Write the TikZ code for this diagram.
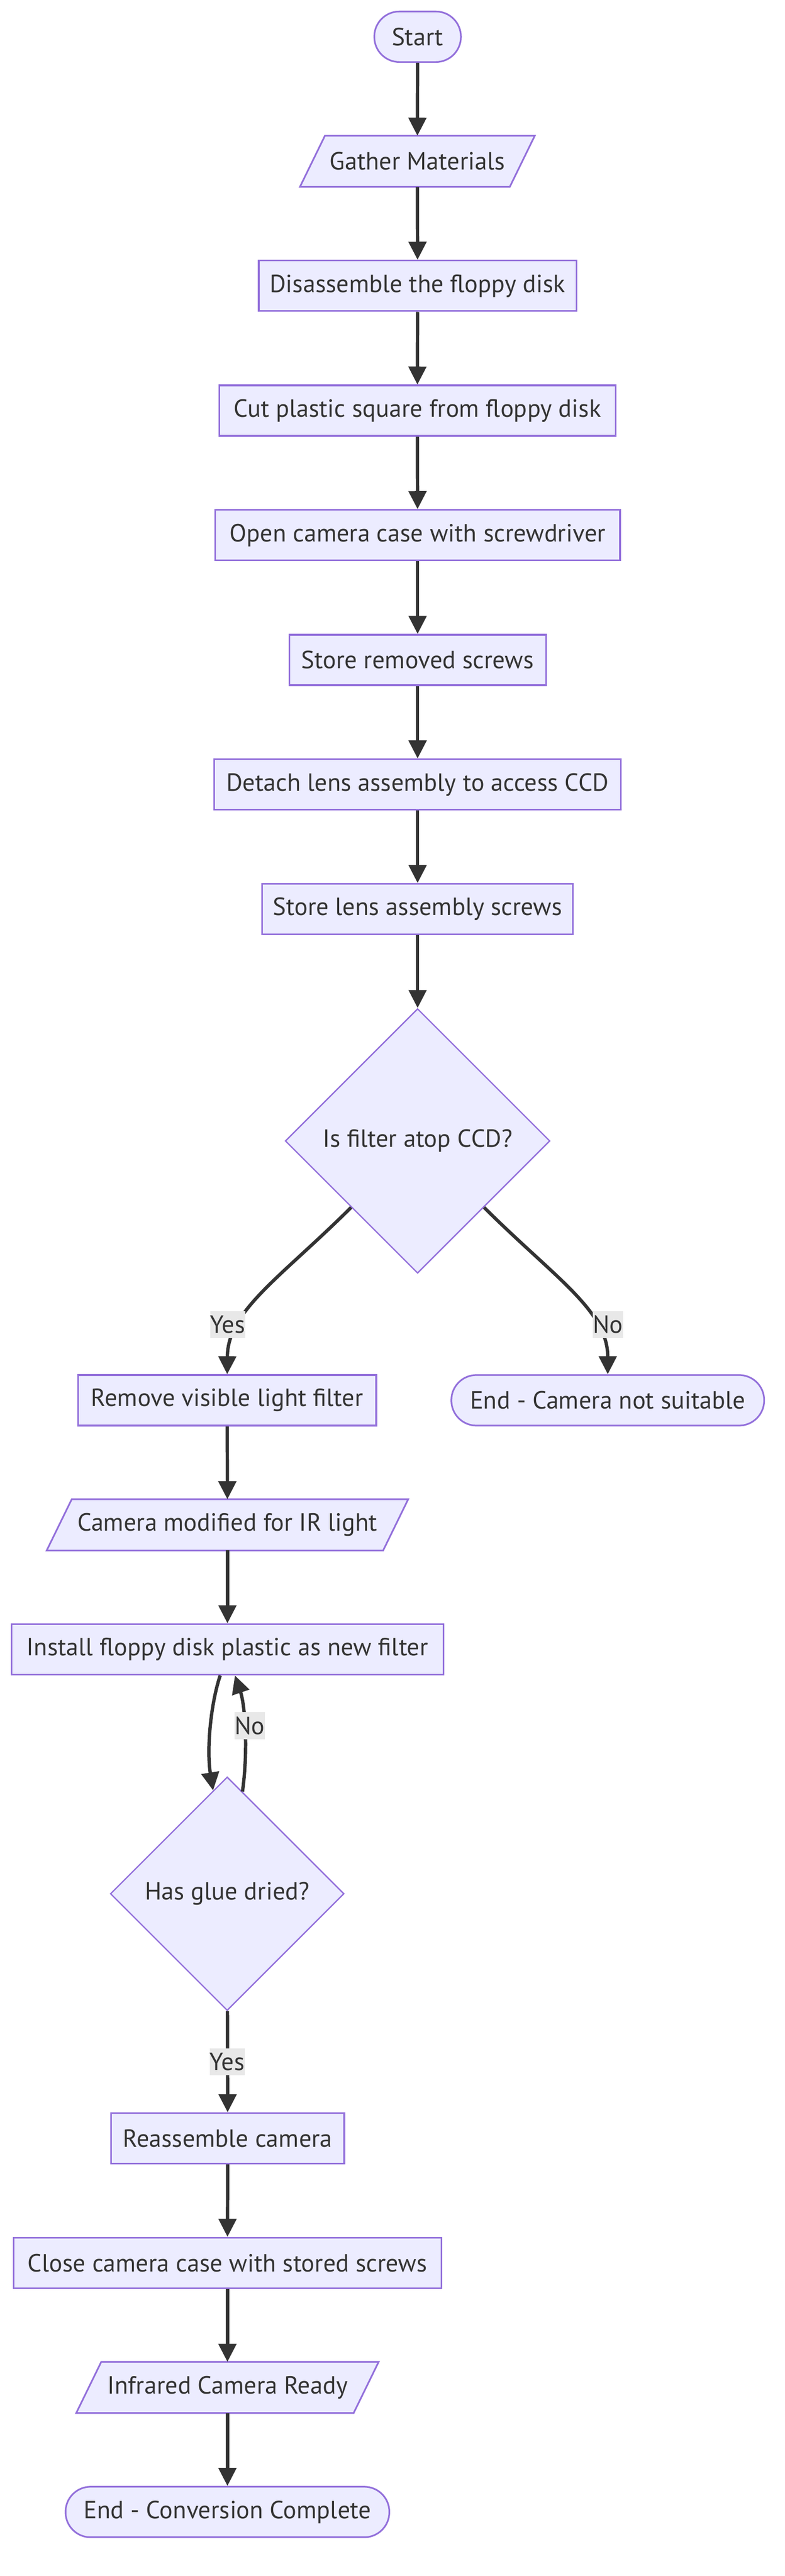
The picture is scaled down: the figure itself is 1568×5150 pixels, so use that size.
\documentclass[tikz,border=0pt]{standalone}
\usepackage{fontspec}
\setmainfont{PT Sans}
\usetikzlibrary{arrows.meta,shapes.geometric,calc,backgrounds}
\definecolor{mfill}{HTML}{ECECFF}
\definecolor{mborder}{HTML}{9370DB}
\definecolor{mtext}{HTML}{333333}
\definecolor{lblbg}{HTML}{E8E8E8}
\definecolor{medge}{HTML}{333333}
\begin{document}
\begin{tikzpicture}[x=0.3pt,y=-0.3pt,
  base/.style={draw=mborder, fill=mfill, line width=1pt, text=mtext, inner sep=0pt,
    font=\fontsize{14.9}{18}\selectfont, minimum height=30.3pt},
  proc/.style={base, rectangle},
  term/.style={base, rectangle, rounded corners=15pt},
  dec/.style={base, diamond, aspect=1, line width=0.8pt},
  parab/.style={rectangle, inner sep=0pt, text=mtext, font=\fontsize{14.9}{18}\selectfont, minimum height=30.3pt},
  parashape/.style={draw=mborder, fill=mfill, line width=1pt},
  edge/.style={draw=medge, line width=2pt, -{Triangle[length=10.8pt,width=10.5pt]}},
  lbl/.style={fill=lblbg, text=mtext, inner sep=0pt, minimum height=16.2pt,
    font=\fontsize{14.9}{18}\selectfont}]
\useasboundingbox (0,0) rectangle (1568,5150);
\begin{scope}[on background layer]
  \fill[white] (0,0) rectangle (1568,5150);
\end{scope}

% upper column
\node[term, minimum width=0.3*173pt] (start) at (834.5,73.5) {Start};
\node[parab, minimum width=0.3*418pt] (gather) at (834,322.5) {Gather Materials};
\node[proc, minimum width=0.3*635pt] (dis) at (834.5,571.5) {Disassemble the floppy disk};
\node[proc, minimum width=0.3*792pt] (cut) at (834,821) {Cut plastic square from floppy disk};
\node[proc, minimum width=0.3*809pt] (open) at (834.5,1070) {Open camera case with screwdriver};
\node[proc, minimum width=0.3*513pt] (store1) at (834.5,1319.5) {Store removed screws};
\node[proc, minimum width=0.3*813pt] (detach) at (834.5,1568.5) {Detach lens assembly to access CCD};
\node[proc, minimum width=0.3*621pt] (store2) at (834.5,1817.5) {Store lens assembly screws};
\node[dec, minimum width=0.3*529pt, minimum height=0.3*529pt] (d1) at (834.5,2281) {Is filter atop CCD?};

% branches
\node[proc, minimum width=0.3*596pt] (remove) at (454,2799.5) {Remove visible light filter};
\node[term, minimum width=0.3*625pt] (endns) at (1214.5,2799.5) {End - Camera not suitable};
\node[parab, minimum width=0.3*671pt] (cam) at (454.5,3048.5) {Camera modified for IR light};
\node[proc, minimum width=0.3*863pt] (install) at (454.5,3297.5) {Install floppy disk plastic as new filter};
\node[dec, minimum width=0.3*467pt, minimum height=0.3*467pt] (d2) at (454,3786) {Has glue dried?};
\node[proc, minimum width=0.3*466pt] (reass) at (455,4275) {Reassemble camera};
\node[proc, minimum width=0.3*855pt] (close) at (454.5,4524) {Close camera case with stored screws};
\node[parab, minimum width=0.3*553pt] (ir) at (454.5,4773) {Infrared Camera Ready};
\node[term, minimum width=0.3*647pt] (endc) at (454.5,5022) {End - Conversion Complete};

% parallelogram outlines
\begin{scope}[on background layer]
  \foreach \n in {gather,cam,ir}{
    \draw[parashape] ($(\n.south west)+(-25,0)$) -- ($(\n.south east)+(-25,0)$)
      -- ($(\n.north east)+(25,0)$) -- ($(\n.north west)+(25,0)$) -- cycle;
  }
\end{scope}

% straight edges
\draw[edge] (start) -- (gather);
\draw[edge] (gather) -- (dis);
\draw[edge] (dis) -- (cut);
\draw[edge] (cut) -- (open);
\draw[edge] (open) -- (store1);
\draw[edge] (store1) -- (detach);
\draw[edge] (detach) -- (store2);
\draw[edge] (store2) -- (d1);
\draw[edge] (remove) -- (cam);
\draw[edge] (cam) -- (install);
\draw[edge] (d2) -- (reass);
\draw[edge] (reass) -- (close);
\draw[edge] (close) -- (ir);
\draw[edge] (ir) -- (endc);

% curved edges
\draw[edge] (d1.south west) .. controls (560,2555) and (455,2620) .. (remove.north);
\draw[edge] (d1.south east) .. controls (1109,2555) and (1214.5,2620) .. (endns.north);
\coordinate (iA) at ([xshift=-4.35pt]install.south);
\coordinate (iB) at ([xshift=4.5pt]install.south);
\coordinate (dA) at ($(d2.north)!0.12!(d2.west)$);
\coordinate (dB) at ($(d2.north)!0.13!(d2.east)$);
\draw[edge] (iA) .. controls (420,3410) and (413,3500) .. (dA);
\draw[edge] (dB) .. controls (496,3500) and (490,3410) .. (iB);

% labels
\node[lbl] (ly1) at (455,2648) {Yes};
\node[lbl] (ln1) at (1215,2648) {No};
\node[lbl] (ln2) at (499,3450) {No};
\node[lbl] (ly2) at (454,4122) {Yes};
\end{tikzpicture}
\end{document}
